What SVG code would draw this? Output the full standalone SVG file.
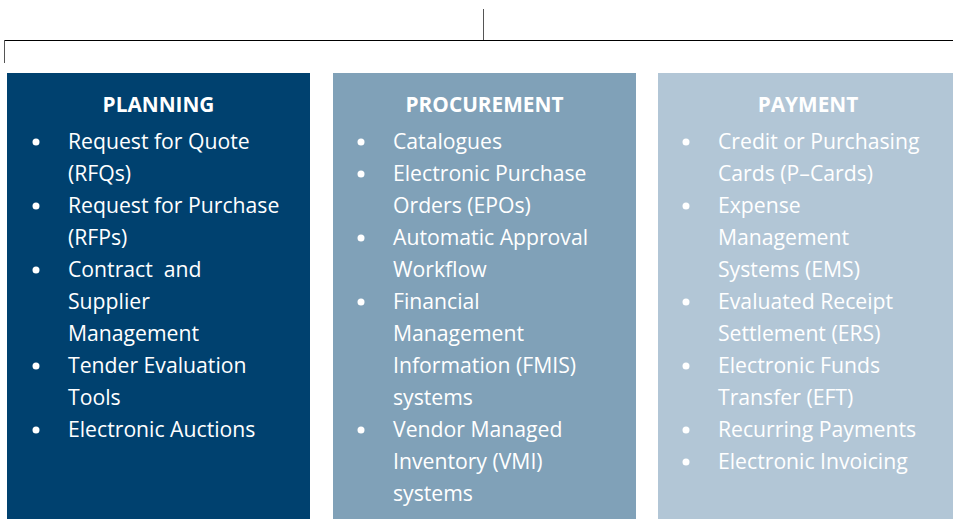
<svg xmlns="http://www.w3.org/2000/svg" width="953" height="519" viewBox="0 0 953 519">
<style>
.h{font-family:"Open Sans","Noto Sans",sans-serif;font-weight:bold;font-size:20.8px;fill:#ffffff;text-anchor:middle}
.t{font-family:"Open Sans","Noto Sans",sans-serif;font-size:21.2px;fill:#ffffff}
.b{fill:#ffffff}
</style>
<g id="connectors" stroke="#000" fill="none">
<line x1="483.5" y1="9" x2="483.5" y2="40" stroke="#555" stroke-width="1"/>
<line x1="4" y1="40.5" x2="953" y2="40.5" stroke-width="1"/>
<line x1="4.5" y1="40" x2="4.5" y2="63" stroke="#555" stroke-width="1"/>
</g>
<g id="planning">
<rect x="7" y="73" width="303" height="446" fill="#00416f"/>
<text class="h" x="158.5" y="112">PLANNING</text>
<g class="b"><circle cx="36" cy="142" r="3.5"/><circle cx="36" cy="206" r="3.5"/><circle cx="36" cy="270" r="3.5"/><circle cx="36" cy="366" r="3.5"/><circle cx="36" cy="430" r="3.5"/></g>
<text class="t" x="68" y="149">Request for Quote</text>
<text class="t" x="68" y="181">(RFQs)</text>
<text class="t" x="68" y="213">Request for Purchase</text>
<text class="t" x="68" y="245">(RFPs)</text>
<text class="t" x="68" y="277" xml:space="preserve">Contract  and</text>
<text class="t" x="68" y="309">Supplier</text>
<text class="t" x="68" y="341">Management</text>
<text class="t" x="68" y="373">Tender Evaluation</text>
<text class="t" x="68" y="405">Tools</text>
<text class="t" x="68" y="437">Electronic Auctions</text>
</g>
<g id="procurement">
<rect x="333" y="73" width="303" height="446" fill="#80a1b8"/>
<text class="h" x="484.5" y="112">PROCUREMENT</text>
<g class="b"><circle cx="361" cy="142" r="3.5"/><circle cx="361" cy="174" r="3.5"/><circle cx="361" cy="238" r="3.5"/><circle cx="361" cy="302" r="3.5"/><circle cx="361" cy="430" r="3.5"/></g>
<text class="t" x="393" y="149">Catalogues</text>
<text class="t" x="393" y="181">Electronic Purchase</text>
<text class="t" x="393" y="213">Orders (EPOs)</text>
<text class="t" x="393" y="245">Automatic Approval</text>
<text class="t" x="393" y="277">Workflow</text>
<text class="t" x="393" y="309">Financial</text>
<text class="t" x="393" y="341">Management</text>
<text class="t" x="393" y="373">Information (FMIS)</text>
<text class="t" x="393" y="405">systems</text>
<text class="t" x="393" y="437">Vendor Managed</text>
<text class="t" x="393" y="469">Inventory (VMI)</text>
<text class="t" x="393" y="501">systems</text>
</g>
<g id="payment">
<rect x="658" y="73" width="300" height="446" fill="#b2c6d6"/>
<text class="h" x="808" y="112">PAYMENT</text>
<g class="b"><circle cx="686" cy="142" r="3.5"/><circle cx="686" cy="206" r="3.5"/><circle cx="686" cy="302" r="3.5"/><circle cx="686" cy="366" r="3.5"/><circle cx="686" cy="430" r="3.5"/><circle cx="686" cy="462" r="3.5"/></g>
<text class="t" x="718" y="149">Credit or Purchasing</text>
<text class="t" x="718" y="181">Cards (P–Cards)</text>
<text class="t" x="718" y="213">Expense</text>
<text class="t" x="718" y="245">Management</text>
<text class="t" x="718" y="277">Systems (EMS)</text>
<text class="t" x="718" y="309">Evaluated Receipt</text>
<text class="t" x="718" y="341">Settlement (ERS)</text>
<text class="t" x="718" y="373">Electronic Funds</text>
<text class="t" x="718" y="405">Transfer (EFT)</text>
<text class="t" x="718" y="437">Recurring Payments</text>
<text class="t" x="718" y="469">Electronic Invoicing</text>
</g>
</svg>
